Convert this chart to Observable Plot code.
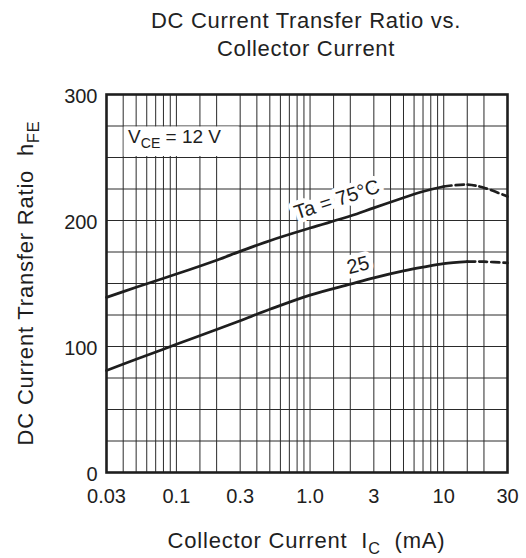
<!DOCTYPE html>
<html><head><meta charset="utf-8">
<script src="https://cdn.jsdelivr.net/npm/d3@7"></script>
<script src="https://cdn.jsdelivr.net/npm/@observablehq/plot@0.6"></script>
<style>
body{margin:0;background:#fff;font-family:"Liberation Sans",Arial,Helvetica,sans-serif;color:#222}
#title{box-sizing:border-box;height:66px;padding-top:6.5px;padding-left:86px;width:526px;text-align:center;font-size:22px;line-height:28.4px;letter-spacing:0.7px}
#chart svg{display:block}
</style></head><body>
<div id="title">DC Current Transfer Ratio vs.<br>Collector Current</div>
<div id="chart"></div>
<script>
// Collector current (mA) and hFE values
const ic75Solid = [0.03, 0.05, 0.1, 0.2, 0.3, 0.5, 1, 2, 3, 5, 7, 10];
const hfe75Solid = [139, 147, 157.5, 168.5, 175.5, 184, 194, 203.5, 210, 218, 223, 227];
const ic75Dashed = [10, 15, 20, 30];
const hfe75Dashed = [227, 228.5, 226, 219];
const ic25Solid = [0.03, 0.05, 0.1, 0.2, 0.3, 0.5, 1, 2, 3, 5, 7, 10, 15];
const hfe25Solid = [81, 89.8, 101.7, 113.5, 120.5, 129.5, 140.8, 149.5, 154.5, 160, 163, 165.8, 167.4];
const ic25Dashed = [15, 20, 30];
const hfe25Dashed = [167.4, 167.3, 166.3];

// Axis ticks and grid
const xTickValues = [0.03, 0.1, 0.3, 1, 3, 10, 30];
const xTickLabels = ["0.03", "0.1", "0.3", "1.0", "3", "10", "30"];
const yTickValues = [0, 100, 200, 300];
const xGrid = [0.04, 0.05, 0.06, 0.07, 0.08, 0.09, 0.1, 0.15, 0.2, 0.3, 0.4, 0.5, 0.6, 0.7, 0.8, 0.9,
               1, 1.5, 2, 3, 4, 5, 6, 7, 8, 9, 10, 15, 20];
const yGrid = [25, 50, 75, 100, 125, 150, 175, 200, 225, 250, 275];

// Annotations (data-space anchors)
const curveLabels = [
  {ic: 1.59, hfe: 216.5, text: "Ta = 75°C", rotate: -18},
  {ic: 2.29, hfe: 164.5, text: "25", rotate: -15}
];
const vceBox = [{x1: 0.04, x2: 0.3, y1: 250, y2: 275}];
const vceAnchor = [{ic: 0.0435, hfe: 266}];

const toRows = (xs, ys) => xs.map((x, i) => ({ic: x, hfe: ys[i]}));
const s75 = toRows(ic75Solid, hfe75Solid), d75 = toRows(ic75Dashed, hfe75Dashed);
const s25 = toRows(ic25Solid, hfe25Solid), d25 = toRows(ic25Dashed, hfe25Dashed);

const ink = "#1e1e1e";
const chart = Plot.plot({
  width: 526, height: 492,
  marginTop: 28, marginBottom: 86, marginLeft: 106, marginRight: 19,
  style: {fontFamily: "Liberation Sans, Arial, sans-serif", fontSize: "20px", color: ink, background: "white", overflow: "visible"},
  x: {type: "log", domain: [0.03, 30]},
  y: {domain: [0, 300]},
  marks: [
    Plot.ruleX(xGrid, {stroke: "#2a2a2a", strokeWidth: 1}),
    Plot.ruleY(yGrid, {stroke: "#2a2a2a", strokeWidth: 1}),
    Plot.rect(vceBox, {x1: "x1", x2: "x2", y1: "y1", y2: "y2", fill: "white", inset: 1}),
    Plot.line(s75, {x: "ic", y: "hfe", curve: "catmull-rom", stroke: ink, strokeWidth: 2.7}),
    Plot.line(d75, {x: "ic", y: "hfe", curve: "catmull-rom", stroke: ink, strokeWidth: 2.7, strokeDasharray: "8,4"}),
    Plot.line(s25, {x: "ic", y: "hfe", curve: "catmull-rom", stroke: ink, strokeWidth: 2.7}),
    Plot.line(d25, {x: "ic", y: "hfe", curve: "catmull-rom", stroke: ink, strokeWidth: 2.7, strokeDasharray: "8,4"}),
    Plot.text(curveLabels, {x: "ic", y: "hfe", text: "text", rotate: "rotate", fontSize: 20, fill: ink, stroke: "white", strokeWidth: 9, strokeLinejoin: "round"}),
    Plot.text(vceAnchor, {x: "ic", y: "hfe", text: () => "VCE_PLACEHOLDER", textAnchor: "start", fontSize: 19, fill: ink}),
    Plot.axisX({ticks: xTickValues, tickFormat: (d) => xTickLabels[xTickValues.indexOf(d)], tickSize: 0, tickPadding: 16, label: null, fontSize: 20}),
    Plot.axisY({ticks: yTickValues, tickSize: 0, tickPadding: 9, label: null, fontSize: 20, dy: 2.5}),
    Plot.frame({stroke: ink, strokeWidth: 2.6})
  ]
});
document.getElementById("chart").appendChild(chart);

const svg = d3.select(chart);
function rich(sel, parts, fs) {
  sel.text(null);
  let shifted = false;
  for (const p of parts) {
    const ts = sel.append("tspan").text(p.t);
    if (p.sub) {
      ts.attr("font-size", fs * 0.74).attr("dy", fs * 0.26);
      shifted = true;
    } else if (shifted) {
      ts.attr("dy", -fs * 0.26);
      shifted = false;
    }
  }
}
const vce = svg.selectAll("text").filter(function () { return this.textContent === "VCE_PLACEHOLDER"; });
vce.style("white-space", "pre");
rich(vce, [{t: "V"}, {t: "CE", sub: true}, {t: " = 12 V"}], 19);

const plotTop = 28, plotBottom = 492 - 86, plotLeft = 106, plotRight = 526 - 19;
const yl = svg.append("text")
  .attr("transform", `translate(33,${(plotTop + plotBottom) / 2}) rotate(-90)`)
  .attr("text-anchor", "middle").attr("fill", ink)
  .style("font-size", "22px").style("letter-spacing", "0.8px").style("white-space", "pre");
rich(yl, [{t: "DC Current Transfer Ratio\u00A0\u00A0h"}, {t: "FE", sub: true}], 22);

const xl = svg.append("text")
  .attr("transform", `translate(${(plotLeft + plotRight) / 2},${482})`)
  .attr("text-anchor", "middle").attr("fill", ink)
  .style("font-size", "22px").style("letter-spacing", "0.8px").style("white-space", "pre");
rich(xl, [{t: "Collector Current\u00A0\u00A0I"}, {t: "C", sub: true}, {t: "\u00A0\u00A0(mA)"}], 22);
</script></body></html>
